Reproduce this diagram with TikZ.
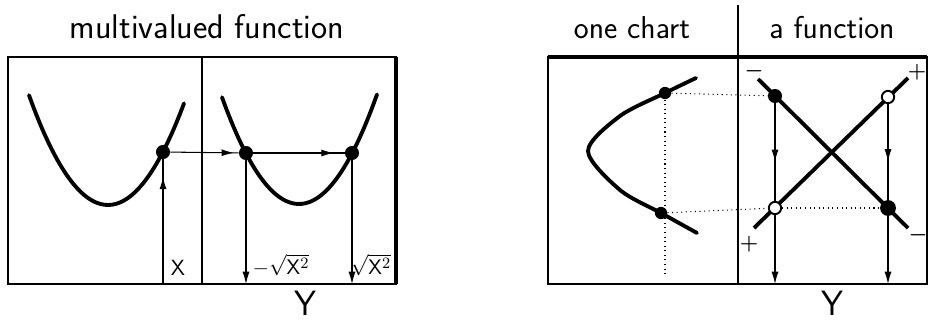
\documentclass[tikz,border=0pt]{standalone}
\usepackage{amsmath}
\usepackage{tikz}
\usetikzlibrary{arrows.meta}
\usetikzlibrary{decorations.markings}
\tikzset{>={Latex[length=7pt,width=4pt]}}
\tikzset{frame/.style={line width=1.3pt}}
\tikzset{curve/.style={line width=2.2pt, line cap=round}}
\tikzset{dot/.style={circle, fill, inner sep=0pt, minimum size=8pt}}
\tikzset{hole/.style={circle, draw, fill=white, line width=1.1pt, inner sep=0pt, minimum size=7pt}}
\tikzset{guide/.style={line width=0.6pt, dotted}}
\tikzset{link/.style={line width=0.6pt}}
\tikzset{midarrow/.style={postaction={decorate}, decoration={markings, mark=at position #1 with {\arrow{Latex[length=7pt,width=4pt]}}}}}
\tikzset{title/.style={font=\sffamily\fontsize{18}{20}\selectfont}}
\tikzset{lbl/.style={font=\sffamily\fontsize{12.5}{14}\selectfont, inner sep=1pt}}

\begin{document}
\begin{tikzpicture}[x=0.02cm, y=-0.02cm]
        \useasboundingbox (0,0) rectangle (930,321);

        % Frames
        \draw[frame] (8,57) rectangle (396,284);
        \draw[line width=2.4pt] (396,57) -- (396,284);
        \draw[link] (202,57) -- (202,284);
        \draw[frame] (548,57) rectangle (927,284);
        \draw[line width=1.8pt] (548,57) -- (927,57);
        \draw[link] (738,5) -- (738,284);

        % Titles
        \node[title, font=\sffamily\fontsize{19.5}{22}\selectfont] (multi) at (207,27) {multivalued function};
        \node[title] (chart) at (632,28) {one chart};
        \node[title] (func) at (832,28) {a function};
        \node[title, font=\sffamily\fontsize{20}{22}\selectfont] (yleft) at (305,303) {Y};
        \node[title, font=\sffamily\fontsize{20}{22}\selectfont] (yright) at (832,303) {Y};

        % Curves
        \draw[curve] plot[domain=29:184, smooth, samples=40] (\x, {205-0.0176*(\x-108)^2});
        \draw[curve] plot[domain=222:377, smooth, samples=40] (\x, {204-0.018*(\x-299)^2});
        \draw[curve] plot[smooth] coordinates {(696,78) (665,93) (620,116) (588,151) (620,190) (661,213) (697,233)};
        \draw[curve, line cap=butt] (758,79) -- (908,228);
        \draw[curve, line cap=butt] (754,228) -- (908,78);

        % Points
        \node[dot] (p) at (163,152) {};
        \node[dot] (qminus) at (246,153) {};
        \node[dot] (qplus) at (352,153) {};
        \node[dot, minimum size=7pt] (upper) at (665,93) {};
        \node[dot, minimum size=7pt] (lower) at (661,213) {};
        \node[dot] (fone) at (775,96) {};
        \node[hole] (hone) at (775,208) {};
        \node[hole] (htwo) at (888,97) {};
        \node[dot, minimum size=9pt] (ftwo) at (888,208) {};

        % Feet on the Y axis
        \coordinate (xfoot) at (163,284);
        \coordinate (mfoot) at (246,284);
        \coordinate (pfoot) at (352,284);
        \coordinate (cfoot) at (665,277);
        \coordinate (afoot) at (775,284);
        \coordinate (bfoot) at (888,284);

        % Arrows
        \draw[link, midarrow=0.86] (xfoot) -- (p);
        \draw[link, midarrow=0.93] (p) -- (qminus);
        \draw[link, midarrow=0.88] (qminus) -- (qplus);
        \draw[link, ->] (qminus) -- (mfoot);
        \draw[link, ->] (qplus) -- (pfoot);
        \draw[guide] (upper) -- (fone);
        \draw[guide] (upper) -- (cfoot);
        \draw[guide] (lower) -- (hone);
        \draw[guide] (hone) -- (ftwo);
        \draw[link, midarrow=0.6] (fone) -- (hone);
        \draw[link, ->] (hone) -- (afoot);
        \draw[link, midarrow=0.6] (htwo) -- (ftwo);
        \draw[link, ->] (ftwo) -- (bfoot);

        % Labels
        \node[lbl] (xlab) at (178,268) {X};
        \node[lbl] (mlab) at (281,265) {$-\sqrt{\mathsf{X}^2}$};
        \node[lbl] (plab) at (371,265) {$\sqrt{\mathsf{X}^2}$};
        \node[lbl] (sminus) at (754,71) {$\boldsymbol{-}$};
        \node[lbl] (splus) at (917,72) {$\boldsymbol{+}$};
        \node[lbl] (tplus) at (749,244) {$\boldsymbol{+}$};
        \node[lbl] (tminus) at (918,235) {$\boldsymbol{-}$};
    \end{tikzpicture}
\end{document}
